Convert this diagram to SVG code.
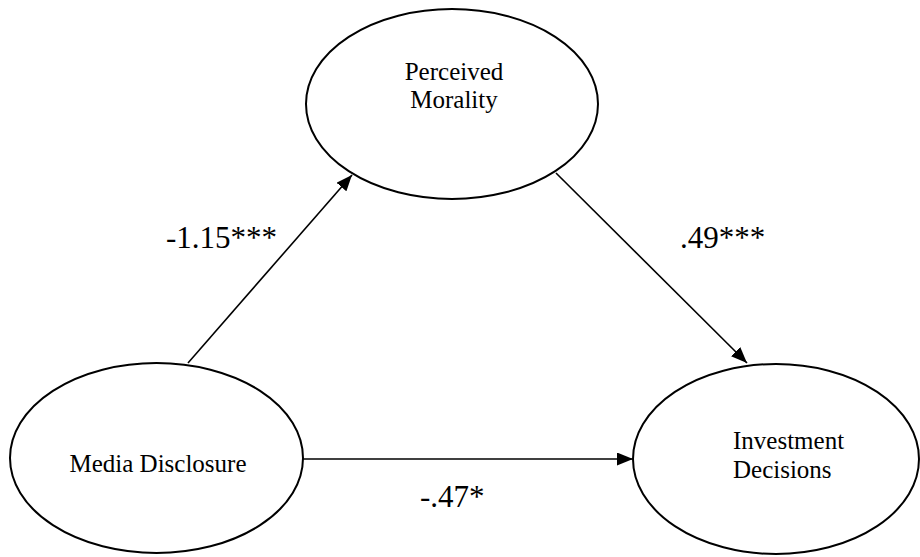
<svg xmlns="http://www.w3.org/2000/svg" width="920" height="557" viewBox="0 0 920 557">
  <style>
    .node { fill: #ffffff; stroke: #000000; stroke-width: 2; }
    .label { font-family: "Liberation Serif", "Times New Roman", serif; font-size: 25px; fill: #000000; }
    .coef { font-family: "Liberation Serif", "Times New Roman", serif; font-size: 31px; fill: #000000; }
    .edge { stroke: #000000; stroke-width: 1.6; fill: none; }
  </style>
  <defs>
    <marker id="arrow" markerUnits="userSpaceOnUse" markerWidth="16" markerHeight="13" refX="16" refY="6.5" orient="auto">
      <path d="M0,0 L16,6.5 L0,13 z" fill="#000000"/>
    </marker>
  </defs>
  <rect width="920" height="557" fill="#ffffff"/>
  <g id="node-perceived-morality">
    <ellipse class="node" cx="452" cy="104" rx="146" ry="95"/>
    <text class="label" x="454" y="80" text-anchor="middle">Perceived</text>
    <text class="label" x="454" y="108" text-anchor="middle">Morality</text>
  </g>
  <g id="node-media-disclosure">
    <ellipse class="node" cx="156.5" cy="458" rx="146.5" ry="95"/>
    <text class="label" x="158" y="472" text-anchor="middle">Media Disclosure</text>
  </g>
  <g id="node-investment-decisions">
    <ellipse class="node" cx="776" cy="459" rx="143" ry="95"/>
    <text class="label" x="733" y="449">Investment</text>
    <text class="label" x="733" y="478">Decisions</text>
  </g>
  <g id="connectors">
    <line class="edge" x1="188" y1="363" x2="352" y2="175" marker-end="url(#arrow)"/>
    <line class="edge" x1="556" y1="173" x2="747" y2="363" marker-end="url(#arrow)"/>
    <line class="edge" x1="303" y1="459" x2="633" y2="459" marker-end="url(#arrow)"/>
    <text class="coef" x="166" y="248">-1.15***</text>
    <text class="coef" x="680" y="248">.49***</text>
    <text class="coef" x="420" y="507">-.47*</text>
  </g>
</svg>
